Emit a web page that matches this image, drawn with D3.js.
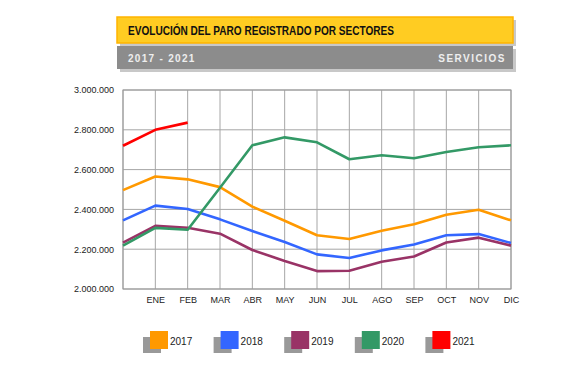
<!doctype html>
<html lang="es">
<head>
<meta charset="utf-8">
<script src="https://cdnjs.cloudflare.com/ajax/libs/d3/7.8.5/d3.min.js"></script>
<style>
  body { margin: 0; background: #fff; font-family: 'Liberation Sans', Arial, sans-serif; }
  .tick text { font-family: 'Liberation Sans', Arial, sans-serif; font-size: 9px; fill: #222; }
</style>
</head>
<body>
<script>
// months: first slot is DIC of the previous year (unlabelled)
const months = ["", "ENE", "FEB", "MAR", "ABR", "MAY", "JUN", "JUL", "AGO", "SEP", "OCT", "NOV", "DIC"];
const years = ["2017", "2018", "2019", "2020", "2021"];
const colors = ["#ff9900", "#3366ff", "#993366", "#339966", "#ff0000"];

const paro2017 = [2497000, 2565000, 2551000, 2512000, 2414000, 2343000, 2270000, 2251000, 2293000, 2325000, 2373000, 2398000, 2345000];
const paro2018 = [2345000, 2419000, 2402000, 2350000, 2291000, 2236000, 2174000, 2156000, 2194000, 2224000, 2270000, 2276000, 2231000];
const paro2019 = [2233000, 2317000, 2308000, 2278000, 2196000, 2141000, 2090000, 2092000, 2137000, 2163000, 2234000, 2258000, 2218000];
const paro2020 = [2218000, 2307000, 2298000, 2509000, 2722000, 2762000, 2737000, 2652000, 2672000, 2657000, 2688000, 2712000, 2722000];
const paro2021 = [2720000, 2800000, 2836000];
const series = [paro2017, paro2018, paro2019, paro2020, paro2021];

const yTicks = [2000000, 2200000, 2400000, 2600000, 2800000, 3000000];

const w = 580, h = 371;
const pLeft = 123, pRight = 511, pTop = 90, pBottom = 289;

const svg = d3.select("body").append("svg").attr("width", w).attr("height", h);

// header
svg.append("rect").attr("x", 120).attr("y", 20).attr("width", 396).attr("height", 26).attr("fill", "#c8c8c8");
svg.append("rect").attr("x", 117).attr("y", 17).attr("width", 396).attr("height", 26)
  .attr("fill", "#ffcc22").attr("stroke", "#ffb400").attr("stroke-width", 1.5);
svg.append("text").attr("x", 128).attr("y", 34.5)
  .attr("font-weight", "bold").attr("font-size", 12.5).attr("fill", "#111")
  .attr("textLength", 266).attr("lengthAdjust", "spacingAndGlyphs")
  .text("EVOLUCIÓN DEL PARO REGISTRADO POR SECTORES");

svg.append("rect").attr("x", 120).attr("y", 49).attr("width", 396).attr("height", 23).attr("fill", "#c8c8c8");
svg.append("rect").attr("x", 117).attr("y", 46).attr("width", 396).attr("height", 23).attr("fill", "#8c8c8c");
svg.append("text").attr("x", 128).attr("y", 61.5)
  .attr("font-weight", "bold").attr("font-size", 10).attr("fill", "#eeeeee").attr("letter-spacing", 1.3)
  .text("2017 - 2021");
svg.append("text").attr("x", 506).attr("y", 61.5).attr("text-anchor", "end")
  .attr("font-weight", "bold").attr("font-size", 10).attr("fill", "#eeeeee").attr("letter-spacing", 1.5)
  .text("SERVICIOS");

// scales
const xScale = d3.scalePoint().domain(d3.range(months.length)).range([pLeft, pRight]);
const yScale = d3.scaleLinear().domain([2000000, 3000000]).range([pBottom, pTop]);

const es = d3.formatLocale({ decimal: ",", thousands: ".", grouping: [3], currency: ["", "€"] });
const fmt = es.format(",d");

// grid
svg.append("g").selectAll("line").data(yTicks).join("line")
  .attr("x1", pLeft).attr("x2", pRight)
  .attr("y1", d => yScale(d)).attr("y2", d => yScale(d))
  .attr("stroke", "#a6a6a6").attr("stroke-width", 1);
svg.append("g").selectAll("line").data(d3.range(months.length)).join("line")
  .attr("x1", d => xScale(d)).attr("x2", d => xScale(d))
  .attr("y1", pTop).attr("y2", pBottom)
  .attr("stroke", "#a6a6a6").attr("stroke-width", 1);
svg.append("rect").attr("x", pLeft).attr("y", pTop).attr("width", pRight - pLeft).attr("height", pBottom - pTop)
  .attr("fill", "none").attr("stroke", "#999").attr("stroke-width", 1);

// axes
const yAxis = d3.axisLeft(yScale).tickValues(yTicks).tickFormat(fmt).tickSize(0).tickPadding(9);
svg.append("g").attr("transform", `translate(${pLeft},0)`).call(yAxis).call(g => g.select(".domain").remove());

const xAxis = d3.axisBottom(xScale).tickFormat(i => months[i]).tickSize(0).tickPadding(8);
svg.append("g").attr("transform", `translate(0,${pBottom})`).call(xAxis).call(g => g.select(".domain").remove());

// lines
const line = d3.line().x((d, i) => xScale(i)).y(d => yScale(d));
svg.append("g").selectAll("path").data(series).join("path")
  .attr("d", line)
  .attr("fill", "none")
  .attr("stroke", (d, i) => colors[i])
  .attr("stroke-width", 2.6)
  .attr("stroke-linejoin", "round");

// legend
const legend = svg.append("g").selectAll("g").data(years).join("g")
  .attr("transform", (d, i) => `translate(${150 + i * 70.6},331)`);
legend.append("rect").attr("x", -7).attr("y", 6).attr("width", 18).attr("height", 16).attr("fill", "#999");
legend.append("rect").attr("x", 0).attr("y", 0).attr("width", 18).attr("height", 18)
  .attr("fill", (d, i) => colors[i]);
legend.append("text").attr("x", 20).attr("y", 14).attr("font-size", 10).attr("fill", "#222").text(d => d);
</script>
</body>
</html>
